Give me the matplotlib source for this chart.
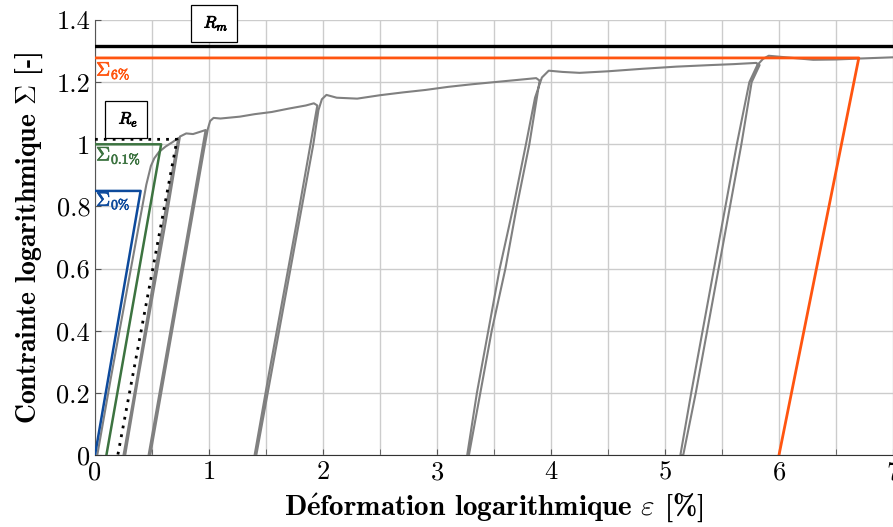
import numpy as np
import matplotlib
matplotlib.use("Agg")
import matplotlib.pyplot as plt
import matplotlib.patheffects as pe
from matplotlib.ticker import MultipleLocator, FuncFormatter

plt.rcParams['font.family'] = 'serif'
plt.rcParams['font.serif'] = ['cmr10']
plt.rcParams['mathtext.fontset'] = 'cm'
plt.rcParams['axes.unicode_minus'] = False
plt.rcParams['axes.formatter.use_mathtext'] = True

# --- mesured curve (cyclic tensile test) ---
eps_exp = [0.02, 0.14, 0.265, 0.39, 0.45, 0.49, 0.52, 0.56, 0.62, 0.68, 0.73,
           0.60, 0.485, 0.37, 0.25,
           0.265, 0.38, 0.50, 0.62, 0.745, 0.80, 0.86, 0.92, 0.97,
           0.83, 0.71, 0.59, 0.47,
           0.485, 0.605, 0.725, 0.845, 0.96, 0.99, 1.01, 1.04,
           1.10, 1.27, 1.40, 1.55, 1.70, 1.85, 1.92, 1.95,
           1.89, 1.77, 1.645, 1.52, 1.40,
           1.415, 1.54, 1.665, 1.79, 1.915, 1.96, 1.99, 2.03, 2.12, 2.30, 2.50,
           2.70, 2.90, 3.10, 3.30, 3.50, 3.70, 3.87, 3.90,
           3.81, 3.70, 3.60, 3.48, 3.38, 3.28,
           3.265, 3.35, 3.45, 3.55, 3.67, 3.78, 3.86, 3.92, 3.98, 4.10, 4.25,
           4.50, 4.80, 5.10, 5.40, 5.60, 5.80, 5.83,
           5.76, 5.67, 5.57, 5.47, 5.37, 5.27, 5.16,
           5.135, 5.23, 5.33, 5.43, 5.53, 5.63, 5.74, 5.81, 5.86, 5.91, 6.00,
           6.15, 6.30, 6.50, 6.70, 6.85, 7.00]
sig_exp = [0.0, 0.25, 0.50, 0.75, 0.87, 0.93, 0.955, 0.975, 0.993, 1.007, 1.02,
           0.75, 0.50, 0.25, 0.0,
           0.0, 0.25, 0.50, 0.75, 1.025, 1.035, 1.033, 1.04, 1.046,
           0.75, 0.50, 0.25, 0.0,
           0.0, 0.25, 0.50, 0.75, 0.99, 1.05, 1.075, 1.085,
           1.083, 1.089, 1.097, 1.104, 1.115, 1.125, 1.132, 1.125,
           1.0, 0.75, 0.50, 0.25, 0.0,
           0.0, 0.25, 0.50, 0.75, 1.0, 1.11, 1.145, 1.159, 1.150, 1.147, 1.158,
           1.167, 1.175, 1.185, 1.193, 1.200, 1.207, 1.213, 1.205,
           1.0, 0.80, 0.60, 0.40, 0.20, 0.0,
           0.0, 0.20, 0.40, 0.60, 0.80, 1.0, 1.15, 1.215, 1.237, 1.233, 1.230,
           1.235, 1.243, 1.250, 1.255, 1.258, 1.262, 1.255,
           1.20, 1.0, 0.80, 0.60, 0.40, 0.20, 0.0,
           0.0, 0.20, 0.40, 0.60, 0.80, 1.0, 1.20, 1.255, 1.275, 1.285, 1.282,
           1.277, 1.272, 1.273, 1.276, 1.278, 1.280]

# --- characteristic levels ---
Rm = 1.315
s6_level, s6_x, s6_x0 = 1.278, 6.70, 6.00
re_level, re_x, re_x0 = 1.016, 0.72, 0.20
s01_level, s01_x, s01_x0 = 1.0, 0.58, 0.10
s0_level, s0_x, s0_x0 = 0.85, 0.40, 0.0

c_blue = '#0d4a9c'
c_green = '#3c7340'
c_orange = '#ff5510'
c_gray = '#808080'

fig = plt.figure(figsize=(8.93, 5.27), dpi=100)
ax = fig.add_axes([0.1064, 0.1366, 0.8936, 0.8254])

ax.plot(eps_exp, sig_exp, color=c_gray, lw=1.5, zorder=3)

ax.axhline(Rm, color='black', lw=2.4, zorder=4)
ax.plot([0, s6_x, s6_x0], [s6_level, s6_level, 0], color=c_orange, lw=2.0, zorder=4)
ax.plot([0, re_x, re_x0], [re_level, re_level, 0], color='black', lw=2.0,
        ls=(0, (1, 2.2)), zorder=4)
ax.plot([0, s01_x, s01_x0], [s01_level, s01_level, 0], color=c_green, lw=1.8, zorder=4)
ax.plot([0, s0_x, s0_x0], [s0_level, s0_level, 0], color=c_blue, lw=1.8, zorder=4)


def bold(c, w=0.5):
    return [pe.withStroke(linewidth=w, foreground=c)]


# labels
ax.text(0.01, 1.237, r'$\Sigma_{6\%}$', color=c_orange, fontsize=14,
        ha='left', va='center', path_effects=bold(c_orange))
ax.text(0.01, 0.964, r'$\Sigma_{0.1\%}$', color=c_green, fontsize=14,
        ha='left', va='center', path_effects=bold(c_green))
ax.text(0.01, 0.818, r'$\Sigma_{0\%}$', color=c_blue, fontsize=14,
        ha='left', va='center', path_effects=bold(c_blue))

box = dict(boxstyle='square,pad=0.55', fc='white', ec='black', lw=0.9)
ax.text(1.044, 1.390, r'$\;R_m\;$', fontsize=12, ha='center', va='center',
        bbox=box, zorder=6, clip_on=False, path_effects=bold('black', 0.6))
ax.text(0.275, 1.081, r'$\;R_e\;$', fontsize=12, ha='center', va='center',
        bbox=box, zorder=6, path_effects=bold('black', 0.6))

ax.set_xlim(0, 7)
ax.set_ylim(0, 1.4)
ax.xaxis.set_major_locator(MultipleLocator(1))
ax.xaxis.set_minor_locator(MultipleLocator(0.5))
ax.yaxis.set_major_locator(MultipleLocator(0.2))
fmt = FuncFormatter(lambda v, p: '%g' % round(v, 2))
ax.xaxis.set_major_formatter(fmt)
ax.yaxis.set_major_formatter(fmt)

ax.grid(True, which='both', color='#cccccc', lw=1.0, zorder=0)
ax.set_axisbelow(True)
ax.tick_params(which='both', direction='in', length=4, color='#555555',
               labelsize=19, top=False, right=False)
ax.tick_params(axis='x', pad=4)

for s in ['top', 'right']:
    ax.spines[s].set_visible(False)
ax.spines['left'].set_color('#555555')
ax.spines['bottom'].set_color('#333333')

ax.set_xlabel('D$\\acute{\\mathbf{e}}$formation logarithmique $\\varepsilon$ [%]',
              family='cmb10', fontsize=21, labelpad=5)
ax.set_ylabel('Contrainte logarithmique $\\Sigma$ [-]', family='cmb10',
              fontsize=20, labelpad=8)

fig.savefig('out.png', dpi=100)
